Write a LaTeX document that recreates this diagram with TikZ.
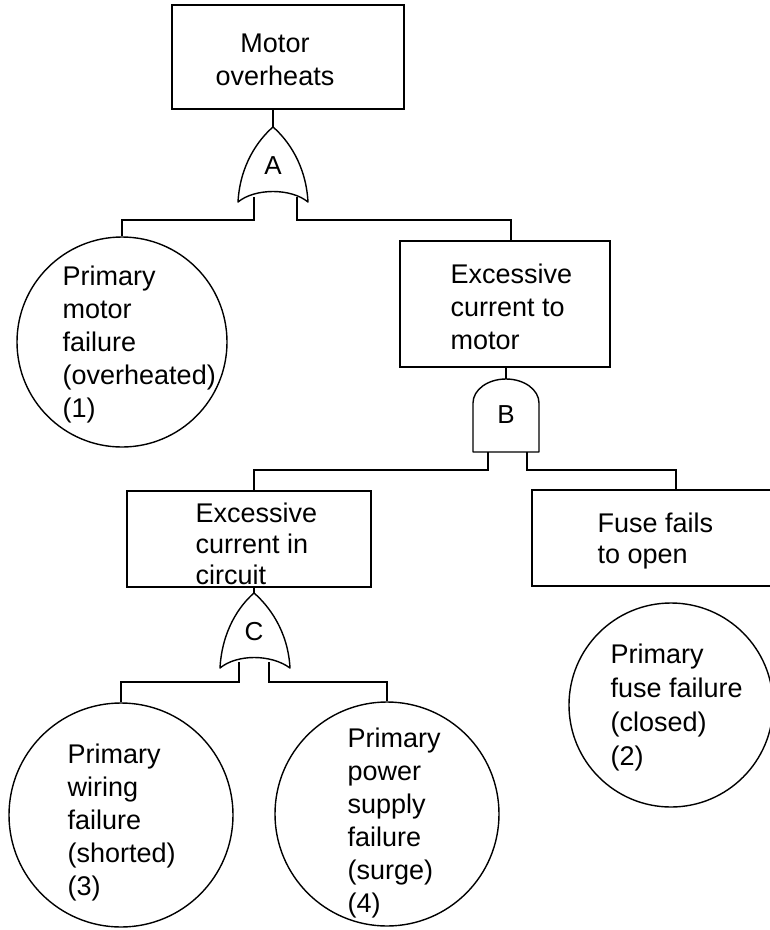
\documentclass[tikz,border=0pt]{standalone}
\usepackage{fontspec}
\setmainfont{Liberation Sans}
\begin{document}
\begin{tikzpicture}[x=1pt,y=-1pt,line width=1.4pt,
  evbox/.style={draw,rectangle,inner sep=0pt},
  basicev/.style={draw,circle,inner sep=0pt},
  lbl/.style={font=\fontsize{27}{33}\selectfont,align=left,inner sep=0pt,anchor=north west},
  glbl/.style={font=\fontsize{26}{33}\selectfont,inner sep=0pt},
  gateshape/.style={draw,line join=round}]
\clip (0,0) rectangle (770,930);
% events (boxes)
\node[evbox,minimum width=232pt,minimum height=104pt] (b1) at (288,57) {};
\node[evbox,minimum width=210pt,minimum height=126pt] (b2) at (505,304) {};
\node[evbox,minimum width=244pt,minimum height=96pt] (b3) at (249,539) {};
\node[evbox,minimum width=268pt,minimum height=96pt] (b4) at (666,538) {};
% basic events (circles)
\node[basicev,minimum size=210pt] (c1) at (122,342) {};
\node[basicev,minimum size=204pt] (c2) at (671,705) {};
\node[basicev,minimum size=224pt] (c3) at (121,815) {};
\node[basicev,minimum size=224pt] (c4) at (387,814) {};
% texts
\node[lbl,align=center,anchor=north] (t1) at (275,33) {Motor\\overheats};
\node[lbl] (t2) at (450,263) {Excessive\\current to\\motor};
\node[lbl,font=\fontsize{27}{31}\selectfont] (t3) at (195,502) {Excessive\\current in\\circuit};
\node[lbl,font=\fontsize{27}{31}\selectfont] (t4) at (597,512) {Fuse fails\\to open};
\node[lbl] (tc1) at (62,265) {Primary\\motor\\failure\\(overheated)\\(1)};
\node[lbl,font=\fontsize{27}{34}\selectfont] (tc2) at (610,643) {Primary\\fuse failure\\(closed)\\(2)};
\node[lbl] (tc3) at (67,743) {Primary\\wiring\\failure\\(shorted)\\(3)};
\node[lbl] (tc4) at (347,727) {Primary\\power\\supply\\failure\\(surge)\\(4)};
% gate A (OR)
\draw[gateshape] (273,127) .. controls (258,140) and (240,165) .. (238,202)
  .. controls (255,188) and (291,188) .. (308,202)
  .. controls (306,165) and (288,140) .. (273,127) -- cycle;
\coordinate (gA) at (273,127);
\coordinate (gAl) at (254,197);
\coordinate (gAr) at (297,197);
\node[glbl] (lA) at (273,166) {A};
% gate B (AND)
\draw[gateshape] (473,452) -- (473,403) arc[start angle=180,end angle=0,x radius=33pt,y radius=24pt] -- (539,452) -- cycle;
\coordinate (gB) at (506,379);
\coordinate (gBl) at (488,452);
\coordinate (gBr) at (527,452);
\node[glbl] (lB) at (506,415) {B};
% gate C (OR)
\draw[gateshape] (254,593) .. controls (239,606) and (222,631) .. (220,668)
  .. controls (237,654) and (271,654) .. (290,668)
  .. controls (288,631) and (269,606) .. (254,593) -- cycle;
\coordinate (gC) at (254,593);
\coordinate (gCl) at (239,662);
\coordinate (gCr) at (269,662);
\node[glbl] (lC) at (254,632) {C};
% connectors
\draw (gA) -- (gA |- b1.south);
\draw (gAl) -- ++(0,23) -| (c1.north);
\draw (gAr) -- ++(0,23) -| ([xshift=6pt]b2.north);
\draw (gB) -- (gB |- b2.south);
\draw (gBl) -- ++(0,18) -| ([xshift=5pt]b3.north);
\draw (gBr) -- ++(0,18) -| ([xshift=10pt]b4.north);
\draw (gC) -- (gC |- b3.south);
\draw (gCl) -- ++(0,20) -| (c3.north);
\draw (gCr) -- ++(0,20) -| (c4.north);
\end{tikzpicture}
\end{document}
